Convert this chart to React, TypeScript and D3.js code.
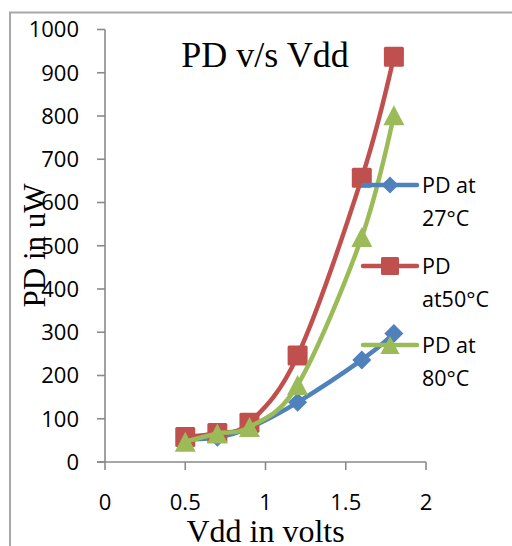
import React from "react";
import * as d3 from "d3";

// Supply voltage (V) and power dissipation (uW) at three temperatures
const vdd = [0.5, 0.7, 0.9, 1.2, 1.6, 1.8];
const pd27 = [52, 57, 79, 138, 236, 297];
const pd50 = [58, 67, 91, 246, 657, 937];
const pd80 = [47, 66, 81, 178, 520, 802];

const xTicks = [0, 0.5, 1, 1.5, 2];
const yTicks = [0, 100, 200, 300, 400, 500, 600, 700, 800, 900, 1000];

const seriesNames = [["PD at", "27°C"], ["PD", "at50°C"], ["PD at", "80°C"]];
const seriesColors = ["#4F81BD", "#C0504D", "#9BBB59"];
const seriesMarkers = ["diamond", "square", "triangle"];

const W = 512;
const H = 546;
const SANS = "'Open Sans', sans-serif";
const SERIF = "'Liberation Serif', 'Times New Roman', serif";

function Marker({ kind, x, y, color, size }: { kind: string; x: number; y: number; color: string; size: number }) {
  const h = size / 2;
  if (kind === "square") {
    return <rect x={x - h} y={y - h} width={size} height={size} rx={1.5} fill={color} />;
  }
  if (kind === "triangle") {
    return <path d={`M${x},${y - h} L${x + h + 0.5},${y + h} L${x - h - 0.5},${y + h} Z`} fill={color} />;
  }
  const d = h * 0.95;
  return <path d={`M${x},${y - d} L${x + d},${y} L${x},${y + d} L${x - d},${y} Z`} fill={color} />;
}

export default function App() {
  const x = d3.scaleLinear().domain([0, 2]).range([105, 426]);
  const y = d3.scaleLinear().domain([0, 1000]).range([462, 29.5]);

  const series = [pd27, pd50, pd80];
  const line = d3
    .line<[number, number]>()
    .x((d) => x(d[0]))
    .y((d) => y(d[1]))
    .curve(d3.curveCatmullRom.alpha(0));

  const axisColor = "#8a8a8a";
  const legendY = [185, 266, 345];

  return (
    <svg width={W} height={H} style={{ position: "absolute", left: 0, top: 0, background: "#fff" }}>
      <rect x={0} y={0} width={W} height={H} fill="#fff" />
      {/* chart area frame */}
      <path d={`M10,${H + 5} L10,12.5 L${W + 5},12.5`} fill="none" stroke="#a8a8a8" strokeWidth={2} />

      {/* y axis */}
      <line x1={105} x2={105} y1={y(1000)} y2={y(0)} stroke={axisColor} strokeWidth={1.6} />
      {yTicks.map((t) => (
        <g key={`y${t}`}>
          <line x1={97} x2={105} y1={y(t)} y2={y(t)} stroke={axisColor} strokeWidth={1.6} />
          <text x={79} y={y(t) + 7.8} textAnchor="end" fontFamily={SANS} fontSize={22} fill="#000">
            {t}
          </text>
        </g>
      ))}

      {/* x axis */}
      <line x1={97} x2={x(2)} y1={y(0)} y2={y(0)} stroke={axisColor} strokeWidth={1.6} />
      {xTicks.map((t) => (
        <g key={`x${t}`}>
          <line x1={x(t)} x2={x(t)} y1={y(0)} y2={y(0) + 8} stroke={axisColor} strokeWidth={1.6} />
          <text x={x(t)} y={510} textAnchor="middle" fontFamily={SANS} fontSize={22} fill="#000">
            {t}
          </text>
        </g>
      ))}

      {/* series */}
      {series.map((vals, i) => {
        const pts: [number, number][] = vdd.map((v, j) => [v, vals[j]]);
        return (
          <g key={`s${i}`}>
            <path d={line(pts) ?? ""} fill="none" stroke={seriesColors[i]} strokeWidth={4.5} strokeLinejoin="round" strokeLinecap="round" />
            {pts.map((p, j) => (
              <Marker key={j} kind={seriesMarkers[i]} x={x(p[0])} y={y(p[1])} color={seriesColors[i]} size={20} />
            ))}
          </g>
        );
      })}

      {/* title */}
      <text x={265} y={67} textAnchor="middle" fontFamily={SERIF} fontSize={36} fill="#000">
        PD v/s Vdd
      </text>

      {/* axis titles */}
      <text x={265.5} y={541.5} textAnchor="middle" fontFamily={SERIF} fontSize={32} fill="#000">
        Vdd in volts
      </text>
      <text
        transform={`translate(45,245.5) rotate(-90)`}
        textAnchor="middle"
        fontFamily={SERIF}
        fontSize={31}
        fill="#000"
      >
        PD in uW
      </text>

      {/* legend */}
      {seriesNames.map((name, i) => (
        <g key={`l${i}`}>
          <line x1={363} x2={417} y1={legendY[i]} y2={legendY[i]} stroke={seriesColors[i]} strokeWidth={4.5} strokeLinecap="round" />
          <Marker kind={seriesMarkers[i]} x={390} y={legendY[i]} color={seriesColors[i]} size={18} />
          <text x={422} y={legendY[i] + 7.8} fontFamily={SANS} fontSize={21.5} fill="#000">
            {name[0]}
          </text>
          <text x={422} y={legendY[i] + 40.5} fontFamily={SANS} fontSize={21.5} fill="#000">
            {name[1]}
          </text>
        </g>
      ))}
    </svg>
  );
}
